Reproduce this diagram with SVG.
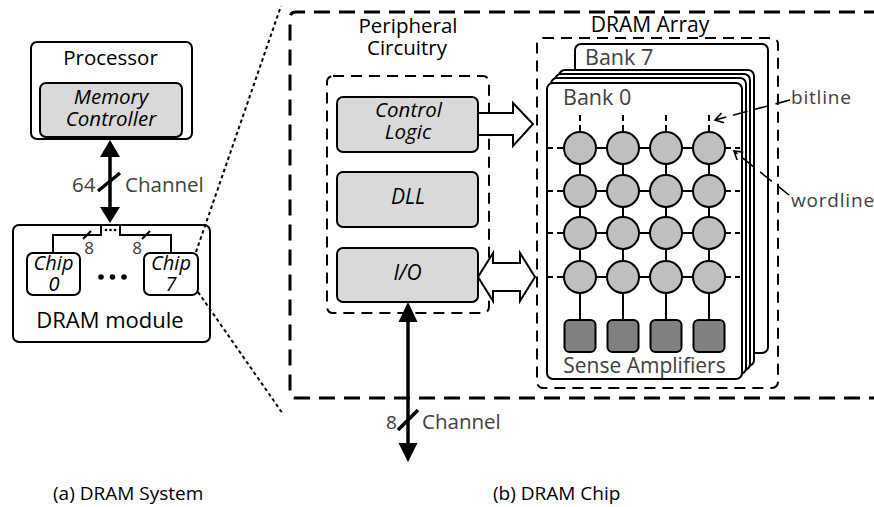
<svg xmlns="http://www.w3.org/2000/svg" width="874" height="507" viewBox="0 0 874 507">
<style>
  text { font-family: "Open Sans", "Noto Sans", sans-serif; fill: #000; }
  .it { font-style: italic; }
  .gray { fill: #404040; }
  .box { fill: #fff; stroke: #000; stroke-width: 2; }
  .gbox { fill: #d9d9d9; stroke: #000; stroke-width: 2; }
  .ln { stroke: #000; stroke-width: 2; fill: none; }
  .thick { stroke: #000; stroke-width: 3.5; fill: none; }
  .dash1 { stroke: #000; stroke-width: 3; fill: none; stroke-dasharray: 16 9; }
  .dash2 { stroke: #000; stroke-width: 2; fill: none; stroke-dasharray: 11 7; }
  .dot { stroke: #000; stroke-width: 2; fill: none; stroke-dasharray: 3.5 3; }
  .tick { stroke: #000; stroke-width: 2; fill: none; stroke-dasharray: 6 4; }
  .cell { fill: #bfbfbf; stroke: #000; stroke-width: 2; }
  .sa { fill: #808080; stroke: #000; stroke-width: 2; }
  .ptr { stroke: #000; stroke-width: 1.6; fill: none; stroke-dasharray: 15 7; }
</style>
<defs>
  <marker id="chev" markerUnits="userSpaceOnUse" markerWidth="14" markerHeight="14" refX="0" refY="0" viewBox="-10 -7 12 14" orient="auto">
    <path d="M -8 -5 L 0 0 L -8 5" fill="none" stroke="#000" stroke-width="1.6"/>
  </marker>
</defs>

<!-- (a) DRAM System -->
<g id="processor">
  <rect class="box" x="31" y="42" width="161" height="97" rx="6"/>
  <text x="110.5" y="65" font-size="20.5" text-anchor="middle">Processor</text>
</g>
<g id="memory-controller">
  <rect class="gbox" x="40" y="83" width="142" height="54" rx="6"/>
  <text class="it" x="111" y="104" font-size="20.5" text-anchor="middle">Memory</text>
  <text class="it" x="111" y="126" font-size="20.5" text-anchor="middle">Controller</text>
</g>
<g id="dram-module">
  <rect class="box" x="13" y="225" width="197" height="117" rx="6"/>
  <text x="110" y="328" font-size="22" text-anchor="middle">DRAM module</text>
</g>
<g id="chip0">
  <rect class="box" x="27" y="253" width="53" height="42" rx="6"/>
  <text class="it" x="53.5" y="270" font-size="20" text-anchor="middle">Chip</text>
  <text class="it" x="54" y="291" font-size="20" text-anchor="middle">0</text>
</g>
<g id="chip7">
  <rect class="box" x="144" y="253" width="54" height="42" rx="6"/>
  <text class="it" x="171" y="270" font-size="20" text-anchor="middle">Chip</text>
  <text class="it" x="171" y="291" font-size="20" text-anchor="middle">7</text>
</g>
<g id="chip-ellipsis">
  <circle cx="101" cy="277" r="2.8"/>
  <circle cx="112.5" cy="277" r="2.8"/>
  <circle cx="124" cy="277" r="2.8"/>
</g>

<!-- (b) DRAM Chip -->
<g id="dram-chip">
  <path class="dash1" d="M 880 12 H 296 Q 290 12 290 18 V 392 Q 290 398 296 398 H 880"/>
</g>
<g id="peripheral-circuitry">
  <rect class="dash2" x="327" y="76" width="162" height="237" rx="6"/>
  <text x="408" y="33" font-size="20.5" text-anchor="middle">Peripheral</text>
  <text x="407" y="55" font-size="20.5" text-anchor="middle">Circuitry</text>
</g>
<g id="control-logic">
  <rect class="gbox" x="337" y="97" width="141" height="55" rx="6"/>
  <text class="it" x="408.5" y="117" font-size="20.5" text-anchor="middle">Control</text>
  <text class="it" x="408" y="139" font-size="20.5" text-anchor="middle">Logic</text>
</g>
<g id="dll">
  <rect class="gbox" x="337" y="172" width="141" height="55" rx="6"/>
  <text class="it" x="408" y="204" font-size="21" text-anchor="middle">DLL</text>
</g>
<g id="io">
  <rect class="gbox" x="337" y="248" width="141" height="54" rx="6"/>
  <text class="it" x="407.5" y="280" font-size="21" text-anchor="middle">I/O</text>
</g>
<g id="dram-array">
  <rect class="dash2" x="537" y="38" width="241" height="350" rx="6"/>
  <text x="650" y="32" font-size="21" text-anchor="middle">DRAM Array</text>
</g>
<g id="bank7">
  <rect class="box" x="575" y="44" width="193" height="309" rx="6"/>
  <text class="gray" x="585" y="65" font-size="21.5">Bank 7</text>
</g>
<g id="banks-middle">
  <rect class="box" x="559" y="70" width="195" height="296" rx="6"/>
  <rect class="box" x="555" y="74" width="195" height="296" rx="6"/>
  <rect class="box" x="551" y="78" width="195" height="296" rx="6"/>
</g>
<g id="bank0">
  <rect class="box" x="547" y="83" width="195" height="296" rx="6"/>
  <text class="gray" x="563" y="105" font-size="21.5">Bank 0</text>
  <path class="tick" d="M580 115 V132 M623 115 V132 M666 115 V132 M709 115 V132"/>
  <path class="tick" d="M547 148 H564 M547 191 H564 M547 233 H564 M547 277 H564"/>
  <path class="tick" d="M725 148 H740 M725 191 H740 M725 233 H740 M725 277 H740"/>
  <path class="ln" d="M564 148 H725 M564 191 H725 M564 233 H725 M564 277 H725"/>
  <path class="ln" d="M580 132 V320 M623 132 V320 M666 132 V320 M709 132 V320"/>
  <g id="cells">
    <circle class="cell" cx="580" cy="148" r="16"/><circle class="cell" cx="623" cy="148" r="16"/><circle class="cell" cx="666" cy="148" r="16"/><circle class="cell" cx="709" cy="148" r="16"/>
    <circle class="cell" cx="580" cy="191" r="16"/><circle class="cell" cx="623" cy="191" r="16"/><circle class="cell" cx="666" cy="191" r="16"/><circle class="cell" cx="709" cy="191" r="16"/>
    <circle class="cell" cx="580" cy="233" r="16"/><circle class="cell" cx="623" cy="233" r="16"/><circle class="cell" cx="666" cy="233" r="16"/><circle class="cell" cx="709" cy="233" r="16"/>
    <circle class="cell" cx="580" cy="277" r="16"/><circle class="cell" cx="623" cy="277" r="16"/><circle class="cell" cx="666" cy="277" r="16"/><circle class="cell" cx="709" cy="277" r="16"/>
  </g>
  <g id="sense-amps">
    <rect class="sa" x="564.5" y="320" width="31" height="32" rx="5"/>
    <rect class="sa" x="607.5" y="320" width="31" height="32" rx="5"/>
    <rect class="sa" x="650.5" y="320" width="31" height="32" rx="5"/>
    <rect class="sa" x="693.5" y="320" width="31" height="32" rx="5"/>
  </g>
  <text class="gray" x="644.5" y="373" font-size="21" text-anchor="middle">Sense Amplifiers</text>
</g>
<g id="bitline-label">
  <text class="gray" x="791" y="104" font-size="19" letter-spacing="0.8">bitline</text>
</g>
<g id="wordline-label">
  <text class="gray" x="791" y="207" font-size="19" letter-spacing="0.8">wordline</text>
</g>

<g id="connectors">
  <line class="dot" x1="196" y1="252" x2="281" y2="6"/>
  <line class="dot" x1="198" y1="292" x2="283" y2="414"/>
  <line class="thick" x1="110" y1="155" x2="110" y2="209"/>
  <polygon points="110,140 100,157 120,157"/>
  <polygon points="110,223 100,207 120,207"/>
  <line class="thick" x1="98" y1="191" x2="120" y2="173"/>
  <text class="gray" x="72" y="192" font-size="20.5">64</text>
  <text class="gray" x="125" y="192" font-size="20.5">Channel</text>
  <polyline class="ln" points="53,253 53,235 101,235 101,225"/>
  <polyline class="ln" points="120,225 120,235 171,235 171,253"/>
  <circle cx="106" cy="230" r="1.3"/><circle cx="110.5" cy="230" r="1.3"/><circle cx="115" cy="230" r="1.3"/>
  <line class="ln" x1="83" y1="239" x2="91" y2="231"/>
  <line class="ln" x1="142" y1="239" x2="150" y2="231"/>
  <text class="gray" x="89" y="254" font-size="17" text-anchor="middle">8</text>
  <text class="gray" x="137" y="254" font-size="17" text-anchor="middle">8</text>
  <polygon class="box" points="478,113 513,113 513,103 533,124 513,146 513,135 478,135"/>
  <polygon class="box" points="478,277 493,253 493,263 520,263 520,253 535,277 520,301 520,291 493,291 493,301"/>
  <line class="thick" x1="408" y1="320" x2="408" y2="445"/>
  <polygon points="408,302 398.5,322 417.5,322"/>
  <polygon points="408,462 398.5,443 417.5,443"/>
  <line class="thick" x1="398" y1="430" x2="418" y2="410"/>
  <text class="gray" x="386" y="429" font-size="19">8</text>
  <text class="gray" x="422" y="429" font-size="20.5">Channel</text>
  <line class="ptr" x1="790" y1="100" x2="715" y2="120" marker-end="url(#chev)"/>
  <line class="ptr" x1="789" y1="195" x2="734" y2="151" marker-end="url(#chev)"/>
</g>

<g id="captions">
  <text x="53" y="500" font-size="19">(a) DRAM System</text>
  <text x="493" y="500" font-size="19">(b) DRAM Chip</text>
</g>
</svg>
